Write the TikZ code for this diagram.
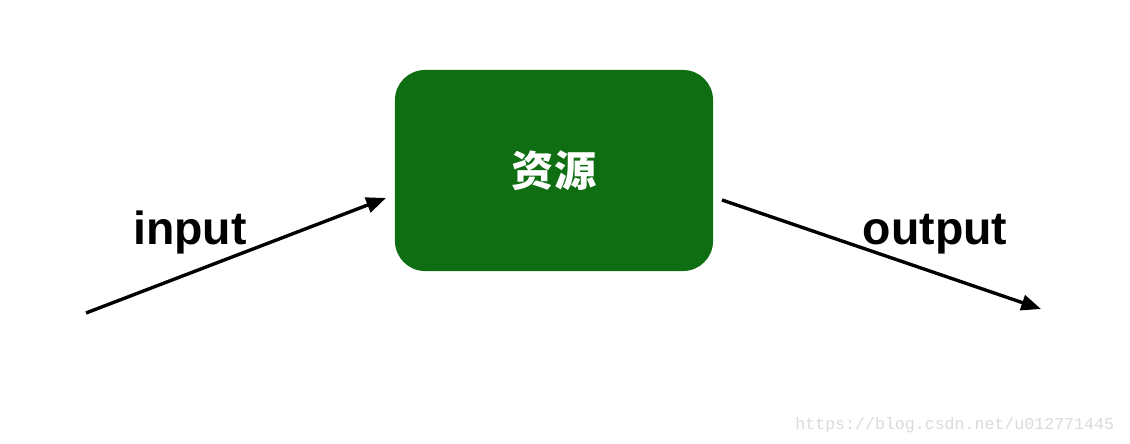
\documentclass[tikz,border=0pt]{standalone}
\usepackage{fontspec}
\setmainfont{Liberation Sans}
\setmonofont{Liberation Mono}
\newfontfamily\cjk{Noto Sans CJK SC}
\usetikzlibrary{arrows.meta, positioning}
\definecolor{ResGreen}{RGB}{14,110,17}
\definecolor{MarkGray}{RGB}{218,218,218}

\begin{document}
\begin{tikzpicture}[x=0.025cm, y=-0.025cm,
    resbox/.style={fill=ResGreen, rounded corners=0.75cm, minimum width=7.95cm, minimum height=5.025cm, text=white, font=\cjk\bfseries\fontsize{30}{30}\selectfont},
    flow/.style={line width=2.4pt, -{Triangle[length=14pt,width=11pt]}},
    lbl/.style={font=\bfseries\fontsize{33}{33}\selectfont, anchor=base}]
      \useasboundingbox (0,0) rectangle (1130,444);
      %\draw[help lines] (0,0) grid[step=50] (1130,444);
      \node[resbox] (res) at (554,170.5) {资源};
      \coordinate (inStart) at (86,313);
      \coordinate (inEnd) at (386,198);
      \coordinate (outStart) at (722,200);
      \coordinate (outEnd) at (1041,309);
      \draw[flow] (inStart) -- (inEnd);
      \draw[flow] (outStart) -- (outEnd);
      \node[lbl] (inLbl) at (190,245) {input};
      \node[lbl] (outLbl) at (935,245) {output};
      % watermark
      \node[text=MarkGray, font=\ttfamily\fontsize{11.8}{12}\selectfont, anchor=base east] (mark) at (1119,430) {https://blog.csdn.net/u012771445};
    \end{tikzpicture}
\end{document}
